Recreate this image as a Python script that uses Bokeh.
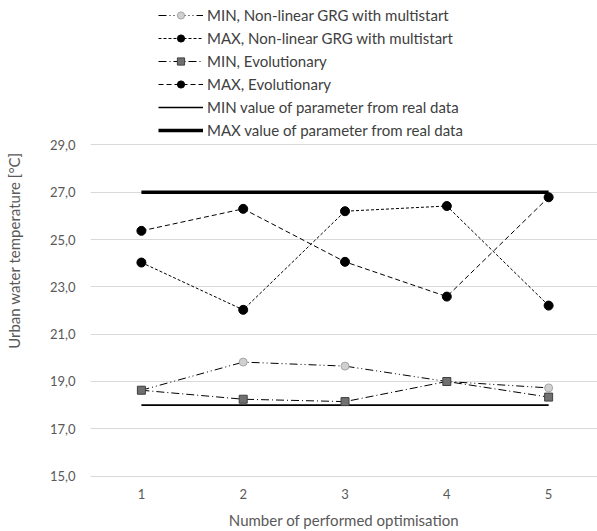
import math
from bokeh.plotting import figure
from bokeh.models import Legend, LegendItem, FixedTicker, ColumnDataSource, LinearAxis
from bokeh.embed import file_html
from bokeh.resources import INLINE

# ---- data ----
runs = [1, 2, 3, 4, 5]
min_grg = [18.63, 19.82, 19.65, 19.00, 18.73]
max_grg = [24.03, 22.03, 26.20, 26.42, 22.21]
min_evo = [18.63, 18.25, 18.15, 19.00, 18.34]
max_evo = [25.37, 26.30, 24.06, 22.59, 26.79]
min_real = [18.0, 18.0, 18.0, 18.0, 18.0]
max_real = [27.0, 27.0, 27.0, 27.0, 27.0]
y_ticks = [15, 17, 19, 21, 23, 25, 27, 29]
y_tick_labels = {t: f"{t:.1f}".replace(".", ",") for t in y_ticks}
x_tick_labels = {r: str(r) for r in runs}

labels = [
    "MIN, Non-linear GRG with multistart",
    "MAX, Non-linear GRG with multistart",
    "MIN, Evolutionary",
    "MAX, Evolutionary",
    "MIN value of parameter from real data",
    "MAX value of parameter from real data",
]
x_title = "Number of performed optimisation"
y_title = "Urban water temperature [°C]"

FONT = "Lato"
TXT = "#595959"

p = figure(width=597, height=531, output_backend="svg", toolbar_location=None,
           x_range=(0.5, 5.48), y_range=(13.968, 35.11),
           min_border_left=90, min_border_right=0, min_border_top=0,
           min_border_bottom=31)
p.outline_line_color = None
p.background_fill_color = "white"

# axes
p.xaxis.ticker = FixedTicker(ticks=runs)
p.xaxis.major_label_overrides = x_tick_labels
p.xaxis.fixed_location = y_ticks[0]
p.yaxis.ticker = FixedTicker(ticks=y_ticks)
p.yaxis.major_label_overrides = y_tick_labels
for ax in (p.xaxis[0], p.yaxis[0]):
    ax.major_tick_line_color = None
    ax.minor_tick_line_color = None
    ax.major_label_text_font = FONT
    ax.major_label_text_font_size = "13px"
    ax.major_label_text_color = TXT
    ax.axis_label_text_font = FONT
    ax.axis_label_text_font_size = "15px"
    ax.axis_label_text_font_style = "normal"
    ax.axis_label_text_color = TXT
p.yaxis.axis_line_color = None
p.yaxis.major_tick_out = 0
p.yaxis.major_label_standoff = 15
p.yaxis.axis_label = y_title
p.yaxis.axis_label_standoff = 24
p.xaxis.axis_line_color = "#d9d9d9"
p.xaxis.major_label_standoff = 7

# axis carrying only the x title, below the frame
xt = LinearAxis(ticker=FixedTicker(ticks=[]), axis_label=x_title,
                axis_line_color=None, major_tick_line_color=None,
                minor_tick_line_color=None, major_tick_out=0, minor_tick_out=0,
                major_label_standoff=0, axis_label_standoff=10,
                axis_label_text_font=FONT, axis_label_text_font_size="15px",
                axis_label_text_font_style="normal", axis_label_text_color=TXT)
p.add_layout(xt, "below")

p.xgrid.grid_line_color = None
p.ygrid.ticker = FixedTicker(ticks=y_ticks)
p.ygrid.grid_line_color = "#d9d9d9"

src = ColumnDataSource(dict(x=runs, min_grg=min_grg, max_grg=max_grg, min_evo=min_evo,
                            max_evo=max_evo, min_real=min_real, max_real=max_real))

r_maxreal = p.line("x", "max_real", source=src, line_color="black", line_width=3.5)
r_minreal = p.line("x", "min_real", source=src, line_color="black", line_width=1.6)

l1 = p.line("x", "min_grg", source=src, line_color="black", line_width=1, line_dash="8 3 1 3 1 3")
m1 = p.scatter("x", "min_grg", source=src, marker="circle", size=8,
               fill_color="#d0d0d0", line_color="#a6a6a6", line_width=1)
l2 = p.line("x", "max_grg", source=src, line_color="black", line_width=1, line_dash="3 2")
m2 = p.scatter("x", "max_grg", source=src, marker="circle", size=9,
               fill_color="black", line_color="black")
l3 = p.line("x", "min_evo", source=src, line_color="black", line_width=1, line_dash="8 3 1 3")
m3 = p.scatter("x", "min_evo", source=src, marker="square", size=8,
               fill_color="#707070", line_color="#404040", line_width=1)
l4 = p.line("x", "max_evo", source=src, line_color="black", line_width=1, line_dash="5 3")
m4 = p.scatter("x", "max_evo", source=src, marker="circle", size=9,
               fill_color="black", line_color="black")

items = [
    LegendItem(label=labels[0], renderers=[l1, m1]),
    LegendItem(label=labels[1], renderers=[l2, m2]),
    LegendItem(label=labels[2], renderers=[l3, m3]),
    LegendItem(label=labels[3], renderers=[l4, m4]),
    LegendItem(label=labels[4], renderers=[r_minreal]),
    LegendItem(label=labels[5], renderers=[r_maxreal]),
]
legend = Legend(items=items, location=(68, 361), orientation="vertical",
                glyph_width=45, glyph_height=18, label_height=18, spacing=5,
                label_standoff=4, padding=0, margin=0,
                border_line_color=None, background_fill_alpha=0,
                label_text_font=FONT, label_text_font_size="15px",
                label_text_color="#404040", label_text_baseline="middle")
p.add_layout(legend, "center")

open("out.html", "w").write(file_html(p, INLINE))
